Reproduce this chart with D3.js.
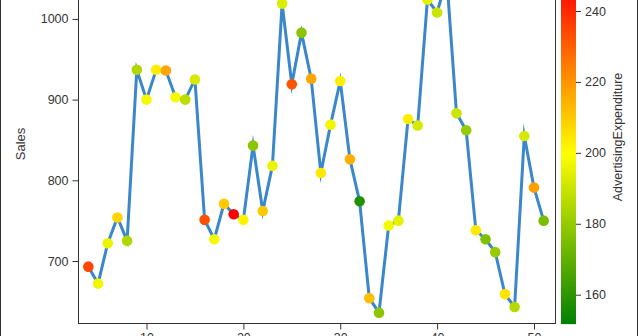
<!DOCTYPE html>
<html>
<head>
<meta charset="utf-8">
<script src="https://cdn.jsdelivr.net/npm/d3@7"></script>
<style>
  body { margin: 0; background: #fff; }
  svg { display: block; font-family: "Liberation Sans", Arial, sans-serif; }
</style>
</head>
<body>
<div id="chart"></div>
<script>
const months = [4, 5, 6, 7, 8, 9, 10, 11, 12, 13, 14, 15, 16, 17, 18, 19, 20, 21, 22, 23, 24, 25, 26, 27,
  28, 29, 30, 31, 32, 33, 34, 35, 36, 37, 38, 39, 40, 41, 42, 43, 44, 45, 46, 47, 48, 49, 50, 51];
const sales = [693, 672, 722, 754, 725, 937, 900, 937, 936, 903, 900, 925, 751, 727, 771, 758, 751, 843, 762, 818, 1019, 919, 983, 926,
  809, 869, 923, 826, 774, 654, 636, 744, 750, 876, 868, 1024, 1008, 1050, 883, 862, 738, 727, 711, 659, 643, 855, 791, 750];
const adSpend = [235, 197, 196, 208, 185, 185, 198, 203, 217, 198, 187, 192, 233, 198, 210, 248, 202, 178, 210, 196, 193, 232, 178, 217,
  204, 197, 203, 215, 158, 212, 178, 198, 195, 203, 192, 195, 190, 200, 190, 180, 204, 176, 180, 205, 186, 192, 218, 175];
const xTicks = [10, 20, 30, 40, 50];
const yTicks = [700, 800, 900, 1000];
const cTicks = [160, 180, 200, 220, 240];

const W = 638, H = 336;
const plot = {left: 78, right: 555, top: -40, bottom: 323};
const textColor = "#333";

const svg = d3.select("#chart").append("svg")
  .attr("width", W)
  .attr("height", H);

const data = months.map((m, i) => ({x: m, y: sales[i], c: adSpend[i]}));

const x = d3.scaleLinear().domain([2.93, 52.17]).range([plot.left, plot.right]);
const y = d3.scaleLinear().domain([623.2, 1073]).range([plot.bottom, plot.top]);

const cMin = 151.7, cMax = 248;
const color = d3.scaleLinear()
  .domain([cMin, (cMin + cMax) / 2, cMax])
  .range(["#008000", "#ffff00", "#ff0000"]);

// outer frame
svg.append("rect")
  .attr("x", 0.5).attr("y", -10)
  .attr("width", W - 1).attr("height", H + 20)
  .attr("fill", "#fff")
  .attr("stroke", "#333");

// plot wall
svg.append("rect")
  .attr("x", plot.left + 0.5).attr("y", plot.top)
  .attr("width", plot.right - plot.left).attr("height", plot.bottom - plot.top + 0.5)
  .attr("fill", "#fff")
  .attr("stroke", "#333");

// y axis
const yAxis = svg.append("g")
  .attr("transform", `translate(${plot.left + 0.5},0)`)
  .call(d3.axisLeft(y).tickValues(yTicks).tickFormat(d3.format("d")).tickSize(6).tickPadding(4));
yAxis.select(".domain").remove();
yAxis.selectAll("line").attr("stroke", "#333");
yAxis.selectAll("text").attr("fill", textColor).style("font-size", "12.5px")
  .style("font-family", "Liberation Sans, Arial, sans-serif");

// x axis (labels fall partly below the picture, as in the original crop)
const xAxis = svg.append("g")
  .attr("transform", `translate(0,${plot.bottom + 0.5})`)
  .call(d3.axisBottom(x).tickValues(xTicks).tickSize(6).tickPadding(4));
xAxis.select(".domain").remove();
xAxis.selectAll("line").attr("stroke", "#333");
xAxis.selectAll("text").attr("fill", textColor).style("font-size", "12.5px")
  .style("font-family", "Liberation Sans, Arial, sans-serif");

svg.append("text")
  .attr("transform", "translate(25,144) rotate(-90)")
  .attr("text-anchor", "middle")
  .attr("fill", textColor)
  .style("font-size", "13px")
  .text("Sales");

// series line
const line = d3.line().x(d => x(d.x)).y(d => y(d.y));
svg.append("path")
  .datum(data)
  .attr("d", line)
  .attr("fill", "none")
  .attr("stroke", "#3a87cb")
  .attr("stroke-width", 3)
  .attr("stroke-miterlimit", 10);

// markers coloured by advertising expenditure
svg.append("g")
  .selectAll("circle")
  .data(data)
  .join("circle")
    .attr("cx", d => x(d.x))
    .attr("cy", d => y(d.y))
    .attr("r", 5.3)
    .attr("fill", d => color(d.c));

// colour legend
const cb = {x: 561, w: 15, bottom: 324};
const cy = d3.scaleLinear().domain([160, 240]).range([294.7, 11]);
const grad = svg.append("defs").append("linearGradient")
  .attr("id", "ramp")
  .attr("x1", 0).attr("y1", 1).attr("x2", 0).attr("y2", 0);
[cMin, (cMin + cMax) / 2, cMax].forEach((v, i) => {
  grad.append("stop").attr("offset", i / 2).attr("stop-color", color(v));
});
svg.append("rect")
  .attr("x", cb.x).attr("y", cy(cMax))
  .attr("width", cb.w).attr("height", cy(cMin) - cy(cMax))
  .attr("fill", "url(#ramp)");

const cAxis = svg.append("g")
  .attr("transform", `translate(${cb.x + cb.w},0)`)
  .call(d3.axisRight(cy).tickValues(cTicks).tickSize(5).tickPadding(4));
cAxis.select(".domain").remove();
cAxis.selectAll("line").attr("stroke", "#333");
cAxis.selectAll("text").attr("fill", textColor).style("font-size", "12.5px")
  .style("font-family", "Liberation Sans, Arial, sans-serif");

svg.append("text")
  .attr("transform", "translate(622,137) rotate(-90)")
  .attr("text-anchor", "middle")
  .attr("fill", textColor)
  .style("font-size", "12.5px")
  .text("AdvertisingExpenditure");
</script>
</body>
</html>
